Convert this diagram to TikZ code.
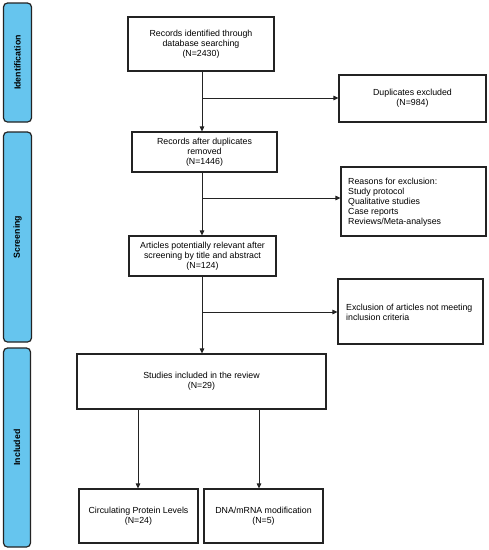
\documentclass[tikz,border=0pt]{standalone}
\usepackage{fontspec}
\setmainfont{Liberation Sans}
\usetikzlibrary{arrows.meta}
\definecolor{barblue}{RGB}{102,197,238}
\definecolor{linegray}{RGB}{35,35,35}
\begin{document}
\begin{tikzpicture}[x=1pt,y=-1pt,
  box/.style={draw=linegray,line width=1.1pt,fill=white,inner sep=0pt,font=\fontsize{8.8}{10}\selectfont,align=center},
  lbox/.style={box,align=left},
  bar/.style={draw=linegray,line width=1.2pt,fill=barblue,rounded corners=4pt,inner sep=0pt,
    font=\bfseries\fontsize{8.8}{10}\selectfont},
  conn/.style={draw=linegray,line width=0.9pt},
  arr/.style={conn,-{Triangle[length=5pt,width=4.5pt]}}]
\useasboundingbox (0,0) rectangle (489,550);
% side bars
\node[bar,minimum width=28pt,minimum height=119pt] (idb) at (17.5,62.5) {\rotatebox{90}{Identification}};
\node[bar,minimum width=28pt,minimum height=210pt] (scb) at (17.5,237) {\rotatebox{90}{Screening}};
\node[bar,minimum width=27pt,minimum height=199pt] (inb) at (17,447.5) {\rotatebox{90}{Included}};
% boxes
\node[box,minimum width=146pt,minimum height=54pt] (b1) at (201,44) {Records identified through\\database searching\\(N=2430)};
\node[box,minimum width=147pt,minimum height=47pt] (dup) at (412.5,98.5) {Duplicates excluded\\(N=984)};
\node[box,minimum width=145pt,minimum height=40pt] (b2) at (204.5,152) {Records after duplicates\\removed\\(N=1446)};
\node[box,minimum width=145pt,minimum height=69pt] (rea) at (413.5,201.5) {};
\node[anchor=north west,inner sep=0pt,font=\fontsize{8.8}{10}\selectfont,align=left] (reat) at (348,177.5) {Reasons for exclusion:\\Study protocol\\Qualitative studies\\Case reports\\Reviews/Meta-analyses};
\node[box,minimum width=147pt,minimum height=40pt] (b3) at (202.5,256) {Articles potentially relevant after\\screening by title and abstract\\(N=124)};
\node[box,minimum width=145pt,minimum height=65pt] (exc) at (410.5,311.5) {};
\node[anchor=west,inner sep=0pt,font=\fontsize{8.8}{10}\selectfont,align=left] (exct) at (346,312) {Exclusion of articles not meeting\\inclusion criteria};
\node[box,minimum width=249pt,minimum height=55pt] (b4) at (201.5,381.5) {Studies included in the review\\(N=29)};
\node[box,minimum width=119pt,minimum height=54pt] (b5) at (138.5,516) {Circulating Protein Levels\\(N=24)};
\node[box,minimum width=119pt,minimum height=54pt] (b6) at (263.5,516) {DNA/mRNA modification\\(N=5)};
% connectors
\coordinate (j1) at (202,98);
\coordinate (j2) at (202,198);
\coordinate (j3) at (202,312);
\draw[arr] (b1.south -| j1) -- (b2.north -| j1);
\draw[arr] (j1) -- (dup.west |- j1);
\draw[arr] (b2.south -| j2) -- (b3.north -| j2);
\draw[arr] (j2) -- (rea.west |- j2);
\draw[arr] (b3.south -| j3) -- (b4.north -| j3);
\draw[arr] (j3) -- (exc.west |- j3);
\coordinate (k1) at (138,0);
\coordinate (k2) at (259,0);
\draw[arr] (b4.south -| k1) -- (b5.north -| k1);
\draw[arr] (b4.south -| k2) -- (b6.north -| k2);
\end{tikzpicture}
\end{document}
